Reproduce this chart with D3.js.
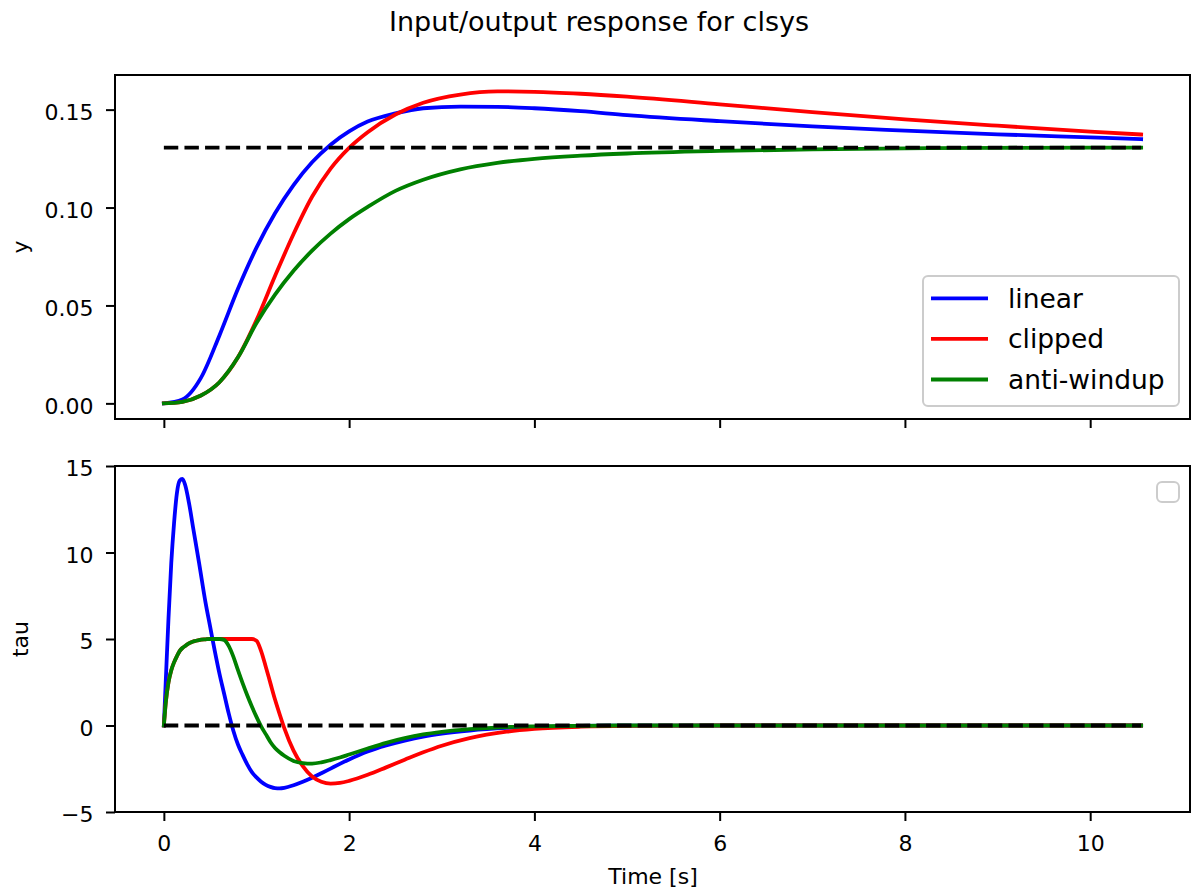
<!DOCTYPE html>
<html><head><meta charset="utf-8">
<script src="https://cdn.jsdelivr.net/npm/d3@7"></script>
<style>body{margin:0;background:#fff} svg{display:block} text{font-family:"DejaVu Sans",sans-serif;fill:#000}</style>
</head><body><svg id="c" width="1192" height="894"></svg>
<script>
// ---- data ----
const timeY = [0, 0.2, 0.4, 0.6, 0.8, 1.0, 1.2, 1.4, 1.6, 1.8, 2.0, 2.2, 2.5, 2.8, 3.2, 3.6, 4.0, 4.5, 5.0, 6.0, 7.0, 8.0, 9.0, 10.0, 10.55];
const yLinear   = [0, 0.002, 0.013, 0.0347, 0.0585, 0.0795, 0.0971, 0.1115, 0.1231, 0.1321, 0.1389, 0.1439, 0.1481, 0.1507, 0.1515, 0.1514, 0.1507, 0.1492, 0.1472, 0.1441, 0.1414, 0.1393, 0.1374, 0.1358, 0.1349];
const yClipped  = [0, 0.0008, 0.004, 0.0108, 0.0235, 0.0425, 0.065, 0.0865, 0.1055, 0.1199, 0.1305, 0.1385, 0.1475, 0.1535, 0.1577, 0.1593, 0.1591, 0.1581, 0.1566, 0.1527, 0.1487, 0.145, 0.1418, 0.1388, 0.1373];
const yAntiWindup = [0, 0.0008, 0.004, 0.0108, 0.0235, 0.041, 0.0555, 0.0677, 0.078, 0.0867, 0.0941, 0.1003, 0.1085, 0.1142, 0.1195, 0.1228, 0.1249, 0.1265, 0.1276, 0.1289, 0.1297, 0.1302, 0.1305, 0.1306, 0.1306];
const yReference = 0.1306;

const timeTau = [0, 0.02, 0.05, 0.08, 0.11, 0.14, 0.17, 0.2, 0.23, 0.27, 0.32, 0.38, 0.45, 0.5, 0.55, 0.6, 0.65, 0.7, 0.75, 0.8, 0.85, 0.9, 0.95, 1.0, 1.05, 1.1, 1.15, 1.2, 1.25, 1.3, 1.4, 1.5, 1.6, 1.7, 1.8, 1.9, 2.0, 2.2, 2.4, 2.6, 2.8, 3.0, 3.3, 3.7, 4.0, 4.5, 5.0, 6.0, 8.0, 10.55];
const tauLinear = [0, 2.5, 6.2, 9.4, 11.7, 13.4, 14.15, 14.25, 13.9, 12.9, 11.3, 9.4, 7.1, 5.7, 4.3, 3.0, 1.85, 0.7, -0.3, -1.1, -1.7, -2.25, -2.7, -3.0, -3.25, -3.43, -3.55, -3.62, -3.63, -3.6, -3.45, -3.25, -3.02, -2.76, -2.49, -2.22, -1.96, -1.5, -1.15, -0.87, -0.64, -0.47, -0.29, -0.14, -0.08, -0.03, -0.01, 0, 0, 0];
const tauClipped = [0, 1.3, 2.5, 3.2, 3.65, 4.0, 4.3, 4.48, 4.6, 4.75, 4.86, 4.94, 4.98, 5.0, 5.0, 5.0, 5.0, 5.0, 5.0, 5.0, 5.0, 5.0, 5.0, 4.9, 4.3, 3.4, 2.45, 1.5, 0.65, -0.15, -1.45, -2.35, -2.95, -3.25, -3.36, -3.32, -3.2, -2.85, -2.42, -1.98, -1.55, -1.17, -0.73, -0.36, -0.2, -0.07, -0.02, 0, 0, 0];
const tauAntiWindup = [0, 1.3, 2.5, 3.2, 3.65, 4.0, 4.3, 4.48, 4.6, 4.75, 4.86, 4.94, 4.98, 5.0, 5.0, 5.0, 4.95, 4.6, 3.98, 3.2, 2.45, 1.75, 1.1, 0.5, -0.05, -0.5, -0.95, -1.3, -1.55, -1.75, -2.05, -2.17, -2.2, -2.13, -2.0, -1.85, -1.68, -1.33, -1.0, -0.73, -0.52, -0.37, -0.21, -0.09, -0.05, -0.02, 0, 0, 0, 0];
const tauReference = 0;

const seriesNames = ["linear", "clipped", "anti-windup"];
const seriesColors = ["#0000ff", "#ff0000", "#008000"];
const xTicks = [0, 2, 4, 6, 8, 10];
const xTickLabels = ["0", "2", "4", "6", "8", "10"];
const yTicks = [0, 0.05, 0.10, 0.15];
const yTickLabels = ["0.00", "0.05", "0.10", "0.15"];
const tauTicks = [-5, 0, 5, 10, 15];
const tauTickLabels = ["\u22125", "0", "5", "10", "15"];
const titleText = "Input/output response for clsys";

// ---- drawing ----
const svg = d3.select("#c");
const LW = 3.8;
const tEnd = d3.max(timeY);
const xs = d3.scaleLinear().domain([-0.05 * tEnd, 1.05 * tEnd]).range([115, 1190]);

function drawPanel(opts) {
  const g = svg.append("g");
  const ys = opts.yScale;
  const line = d3.line().curve(d3.curveMonotoneX).x(d => xs(d[0])).y(d => ys(d[1]));
  opts.series.forEach((vals, i) => {
    g.append("path")
      .attr("d", line(opts.time.map((t, k) => [t, vals[k]])))
      .attr("fill", "none").attr("stroke", seriesColors[i])
      .attr("stroke-width", LW).attr("stroke-linejoin", "round").attr("stroke-linecap", "square");
  });
  g.append("path")
    .attr("d", line([[0, opts.ref], [tEnd, opts.ref]]))
    .attr("fill", "none").attr("stroke", "#000").attr("stroke-width", LW)
    .attr("stroke-dasharray", "14.4,6.2");

  const [r0, r1] = xs.range();
  const [b, t] = ys.range();
  const xa = d3.axisBottom(xs).tickValues(xTicks).tickSize(9).tickSizeOuter(0)
    .tickFormat((d, i) => opts.showXLabels ? xTickLabels[i] : "");
  const gx = g.append("g").attr("transform", `translate(0,${b})`).call(xa);
  gx.select(".domain").remove();
  gx.selectAll("line").attr("stroke", "#000").attr("stroke-width", 2);
  gx.selectAll("text").attr("y", 23).attr("dy", "0.71em").style("font-size", "22px").attr("fill", "#000");
  const ya = d3.axisLeft(ys).tickValues(opts.yTicks).tickSize(9).tickSizeOuter(0)
    .tickFormat((d, i) => opts.yTickLabels[i]);
  const gy = g.append("g").attr("transform", `translate(${r0},0)`).call(ya);
  gy.select(".domain").remove();
  gy.selectAll("line").attr("stroke", "#000").attr("stroke-width", 2);
  gy.selectAll("text").attr("x", -21.5).attr("dy", "0.45em").style("font-size", "22px").attr("fill", "#000");
  g.append("rect").attr("x", r0).attr("y", t).attr("width", r1 - r0).attr("height", b - t)
    .attr("fill", "none").attr("stroke", "#000").attr("stroke-width", 2);
  g.append("text").attr("transform", `translate(27.5,${(b + t) / 2}) rotate(-90)`)
    .attr("text-anchor", "middle").style("font-size", "22px").text(opts.ylabel);
  return g;
}

drawPanel({
  time: timeY, series: [yLinear, yClipped, yAntiWindup], ref: yReference,
  yScale: d3.scaleLinear().domain([-0.05 * 0.1597, 0.1597 * 1.05]).range([419, 75]),
  yTicks: yTicks, yTickLabels: yTickLabels, ylabel: "y", showXLabels: false
});
drawPanel({
  time: timeTau, series: [tauLinear, tauClipped, tauAntiWindup], ref: tauReference,
  yScale: d3.scaleLinear().domain([-5, 15]).range([812, 466]),
  yTicks: tauTicks, yTickLabels: tauTickLabels, ylabel: "tau", showXLabels: true
});

const lg = svg.append("g");
lg.append("rect").attr("x", 923).attr("y", 276).attr("width", 256).attr("height", 130)
  .attr("rx", 5).attr("fill", "#fff").attr("fill-opacity", 0.8)
  .attr("stroke", "#cccccc").attr("stroke-width", 2);
seriesNames.forEach((name, i) => {
  const yy = 298.3 + i * 40.6;
  lg.append("line").attr("x1", 931).attr("x2", 988).attr("y1", yy).attr("y2", yy)
    .attr("stroke", seriesColors[i]).attr("stroke-width", LW);
  lg.append("text").attr("x", 1008).attr("y", yy + 9.3).style("font-size", "26.5px").text(name);
});
svg.append("rect").attr("x", 1157).attr("y", 482).attr("width", 22).attr("height", 20)
  .attr("rx", 5).attr("fill", "#fff").attr("fill-opacity", 0.8)
  .attr("stroke", "#cccccc").attr("stroke-width", 2);

svg.append("text").attr("x", 599).attr("y", 31).attr("text-anchor", "middle")
  .style("font-size", "27px").text(titleText);
svg.append("text").attr("x", 653).attr("y", 884).attr("text-anchor", "middle")
  .style("font-size", "22px").text("Time [s]");
</script>
</body></html>
